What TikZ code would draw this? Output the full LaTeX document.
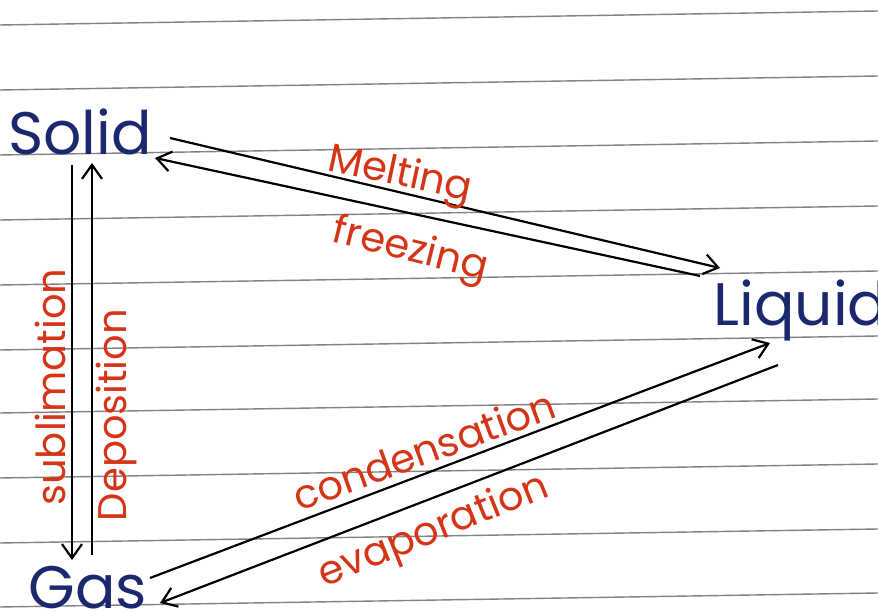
\documentclass[tikz,border=0pt]{standalone}
\usepackage{fontspec}
\setmainfont{Poppins}
\usetikzlibrary{arrows.meta, positioning}
\definecolor{ink}{RGB}{28,40,110}
\definecolor{redink}{RGB}{214,52,22}
\definecolor{rule}{RGB}{130,130,130}

\begin{document}
\begin{tikzpicture}[x=0.5pt, y=-0.5pt, thick,
    state/.style={text=ink, font=\fontsize{30}{36}\selectfont, inner sep=0pt},
    change/.style={text=redink, font=\fontsize{20}{24}\selectfont, inner sep=0pt},
    flow/.style={->, >={Straight Barb[length=7pt, width=10pt]}, line width=1.1pt}]
    \useasboundingbox (0,0) rectangle (878,613);
    \fill[white] (0,0) rectangle (878,613);
    \foreach \y in {25,90,155,220,285,350,413,478,543,607}
        \draw[rule, line width=0.7pt] (0,\y) -- (878,\y-14);

    \node[state] (solid) at (80,132) {Solid};
    \node[state] (liquid) at (801,310) {Liquid};
    \node[state] (gas) at (88,588) {Gas};

    \draw[flow] ([shift={(90,6)}]solid.center) -- ([shift={(-81,-42)}]liquid.center);
    \draw[flow] ([shift={(-101,-34)}]liquid.center) -- ([shift={(75,26)}]solid.center);
    \draw[flow] ([shift={(-8,33)}]solid.center) -- ([shift={(-16,-28)}]gas.center);
    \draw[flow] ([shift={(4,-33)}]gas.center) -- ([shift={(12,31)}]solid.center);
    \draw[flow] ([shift={(62,-10)}]gas.center) -- ([shift={(-31,33)}]liquid.center);
    \draw[flow] ([shift={(-23,55)}]liquid.center) -- ([shift={(72,15)}]gas.center);

    \node[change, rotate=-12] (melt) at (400,176) {Melting};
    \node[change, rotate=-14] (freeze) at (410,251) {freezing};
    \node[change, rotate=90] (subl) at (50,387) {sublimation};
    \node[change, rotate=90] (depo) at (116,415) {Deposition};
    \node[change, rotate=20] (cond) at (424,450) {condensation};
    \node[change, rotate=22] (evap) at (434,532) {evaporation};
\end{tikzpicture}
\end{document}
